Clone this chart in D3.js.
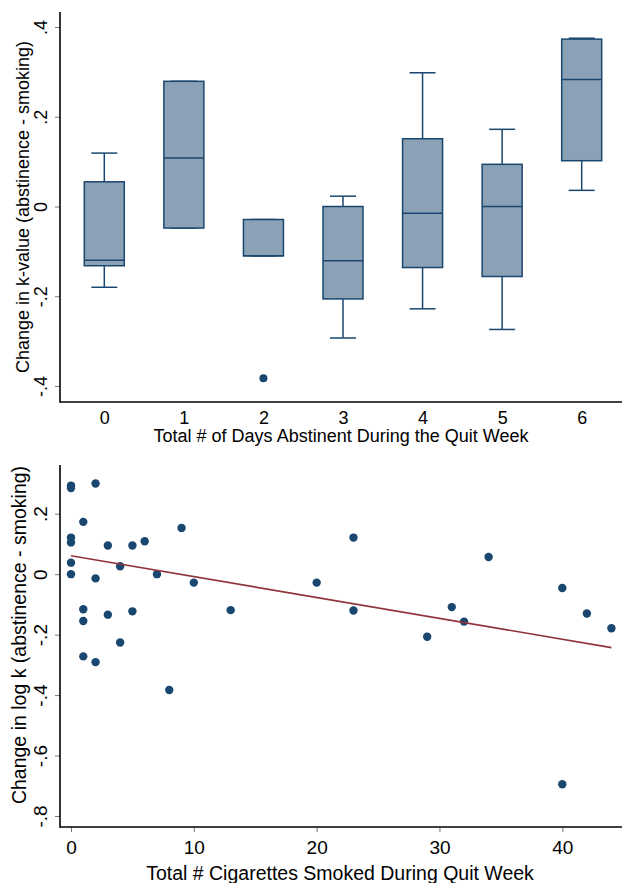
<!DOCTYPE html>
<html>
<head>
<meta charset="utf-8">
<script src="https://cdn.jsdelivr.net/npm/d3@7"></script>
<style>
  body { margin: 0; background: #fff; }
  svg text { font-family: "Liberation Sans", Arial, sans-serif; fill: #000; }
</style>
</head>
<body>
<div id="chart"></div>
<script>
// top panel: box plot by days abstinent
const days = [0, 1, 2, 3, 4, 5, 6];
const whiskerLo = [-0.180, -0.048, -0.110, -0.293, -0.228, -0.274, 0.036];
const boxQ1     = [-0.132, -0.048, -0.110, -0.206, -0.136, -0.156, 0.102];
const boxMedian = [-0.120, 0.108, -0.110, -0.121, -0.015, 0.000, 0.283];
const boxQ3     = [0.055, 0.279, -0.029, 0.000, 0.151, 0.094, 0.373];
const whiskerHi = [0.119, 0.279, -0.029, 0.023, 0.298, 0.172, 0.375];
const outlierDay = [2];
const outlierVal = [-0.383];
const topYTicks = [-0.4, -0.2, 0, 0.2, 0.4];

// bottom panel: scatter by cigarettes smoked
const cigs = [0, 0, 2, 1, 0, 0, 3, 5, 6, 9, 0, 0, 4, 2, 7, 10, 1, 3, 5, 13, 1, 4, 1, 2, 8,
              20, 23, 23, 34, 29, 31, 32, 40, 42, 44, 40];
const logK = [0.293, 0.285, 0.300, 0.173, 0.121, 0.105, 0.095, 0.095, 0.109, 0.153, 0.038, 0.000,
              0.026, -0.014, 0.000, -0.028, -0.116, -0.134, -0.123, -0.119, -0.155, -0.226, -0.272,
              -0.291, -0.383, -0.028, 0.121, -0.120, 0.057, -0.207, -0.109, -0.157, -0.046, -0.130,
              -0.179, -0.695];
const fitX = [0, 44];
const fitY = [0.061, -0.243];
const botXTicks = [0, 10, 20, 30, 40];
const botYTicks = [-0.8, -0.6, -0.4, -0.2, 0, 0.2];

const width = 622, height = 883;
const navy = '#1a476f';
// stata style labels: ".2", "-.4"
const fmt = d => d === 0 ? '0' : d.toFixed(1).replace('0.', '.');

const svg = d3.select('#chart').append('svg')
    .attr('width', width)
    .attr('height', height);

// ---------- top panel ----------
const topPanel = svg.append('g');
const x1 = d3.scaleLinear().domain([0, 6]).range([104.3, 581.7]);
const y1 = d3.scaleLinear().domain([-0.4, 0.4]).range([386, 27]);

topPanel.append('g')
    .attr('transform', 'translate(60,0)')
    .call(d3.axisLeft(y1).tickValues(topYTicks).tickSize(5).tickFormat(fmt))
    .call(g => g.select('.domain').remove())
    .call(g => g.selectAll('.tick line').attr('stroke', '#777'))
    .call(g => g.selectAll('.tick text')
        .attr('transform', 'rotate(-90)')
        .attr('x', 0).attr('y', -19).attr('dy', '0.35em')
        .attr('text-anchor', 'middle')
        .style('font-size', '18px'));

topPanel.append('g')
    .attr('transform', 'translate(0,402)')
    .call(d3.axisBottom(x1).tickValues(days).tickSize(0).tickFormat(d3.format('d')))
    .call(g => g.select('.domain').remove())
    .call(g => g.selectAll('.tick text').attr('y', 9).attr('dy', '0.71em').style('font-size', '18px'));

// boxes
const boxes = topPanel.selectAll('.box').data(days).enter().append('g').attr('class', 'box');
boxes.append('line')
    .attr('x1', d => x1(d)).attr('x2', d => x1(d))
    .attr('y1', (d, i) => y1(whiskerHi[i])).attr('y2', (d, i) => y1(boxQ3[i]))
    .attr('stroke', navy).attr('stroke-width', 1.5);
boxes.append('line')
    .attr('x1', d => x1(d)).attr('x2', d => x1(d))
    .attr('y1', (d, i) => y1(boxQ1[i])).attr('y2', (d, i) => y1(whiskerLo[i]))
    .attr('stroke', navy).attr('stroke-width', 1.5);
boxes.append('line')
    .attr('x1', d => x1(d) - 13).attr('x2', d => x1(d) + 13)
    .attr('y1', (d, i) => y1(whiskerHi[i])).attr('y2', (d, i) => y1(whiskerHi[i]))
    .attr('stroke', navy).attr('stroke-width', 1.5);
boxes.append('line')
    .attr('x1', d => x1(d) - 13).attr('x2', d => x1(d) + 13)
    .attr('y1', (d, i) => y1(whiskerLo[i])).attr('y2', (d, i) => y1(whiskerLo[i]))
    .attr('stroke', navy).attr('stroke-width', 1.5);
boxes.append('rect')
    .attr('x', d => x1(d) - 20).attr('width', 40)
    .attr('y', (d, i) => y1(boxQ3[i]))
    .attr('height', (d, i) => y1(boxQ1[i]) - y1(boxQ3[i]))
    .attr('fill', '#8ba1b5').attr('stroke', navy).attr('stroke-width', 1.5);
boxes.append('line')
    .attr('x1', d => x1(d) - 20).attr('x2', d => x1(d) + 20)
    .attr('y1', (d, i) => y1(boxMedian[i])).attr('y2', (d, i) => y1(boxMedian[i]))
    .attr('stroke', navy).attr('stroke-width', 1.5);

topPanel.selectAll('.outlier').data(outlierDay).enter().append('circle')
    .attr('class', 'outlier')
    .attr('cx', d => x1(d)).attr('cy', (d, i) => y1(outlierVal[i]))
    .attr('r', 4).attr('fill', navy);

// axis lines
topPanel.append('line').attr('x1', 60).attr('x2', 60).attr('y1', 12).attr('y2', 402.8)
    .attr('stroke', '#000').attr('stroke-width', 1.6);
topPanel.append('line').attr('x1', 60).attr('x2', 622).attr('y1', 402).attr('y2', 402)
    .attr('stroke', '#000').attr('stroke-width', 1.6);

topPanel.append('text')
    .attr('transform', 'translate(29,207) rotate(-90)')
    .attr('text-anchor', 'middle')
    .style('font-size', '18px')
    .text('Change in k-value (abstinence - smoking)');
topPanel.append('text')
    .attr('x', 341).attr('y', 442)
    .attr('text-anchor', 'middle')
    .style('font-size', '18px')
    .text('Total # of Days Abstinent During the Quit Week');

// ---------- bottom panel ----------
const botPanel = svg.append('g');
const x2 = d3.scaleLinear().domain([0, 40]).range([71, 562.3]);
const y2 = d3.scaleLinear().domain([-0.8, 0.2]).range([816, 513.7]);

botPanel.append('g')
    .attr('transform', 'translate(60,0)')
    .call(d3.axisLeft(y2).tickValues(botYTicks).tickSize(5).tickFormat(fmt))
    .call(g => g.select('.domain').remove())
    .call(g => g.selectAll('.tick line').attr('stroke', '#777'))
    .call(g => g.selectAll('.tick text')
        .attr('transform', 'rotate(-90)')
        .attr('x', 0).attr('y', -20).attr('dy', '0.35em')
        .attr('text-anchor', 'middle')
        .style('font-size', '19px'));

botPanel.append('g')
    .attr('transform', 'translate(0,827)')
    .call(d3.axisBottom(x2).tickValues(botXTicks).tickSize(5).tickFormat(d3.format('d')))
    .call(g => g.select('.domain').remove())
    .call(g => g.selectAll('.tick line').attr('stroke', '#777'))
    .call(g => g.selectAll('.tick text').attr('y', 14).attr('dy', '0.71em').style('font-size', '19px'));

botPanel.append('g').selectAll('circle').data(cigs).enter().append('circle')
    .attr('cx', d => x2(d)).attr('cy', (d, i) => y2(logK[i]))
    .attr('r', 4.2).attr('fill', navy);

const fitLine = d3.line().x(d => x2(d)).y((d, i) => y2(fitY[i]));
botPanel.append('path')
    .attr('d', fitLine(fitX))
    .attr('fill', 'none').attr('stroke', '#90353b').attr('stroke-width', 1.6);

botPanel.append('line').attr('x1', 60).attr('x2', 60).attr('y1', 465).attr('y2', 827.8)
    .attr('stroke', '#000').attr('stroke-width', 1.6);
botPanel.append('line').attr('x1', 60).attr('x2', 622).attr('y1', 827).attr('y2', 827)
    .attr('stroke', '#000').attr('stroke-width', 1.6);

botPanel.append('text')
    .attr('transform', 'translate(26,635) rotate(-90)')
    .attr('text-anchor', 'middle')
    .style('font-size', '19.5px')
    .text('Change in log k (abstinence - smoking)');
botPanel.append('text')
    .attr('x', 340).attr('y', 880)
    .attr('text-anchor', 'middle')
    .style('font-size', '19.5px')
    .text('Total # Cigarettes Smoked During Quit Week');
</script>
</body>
</html>
